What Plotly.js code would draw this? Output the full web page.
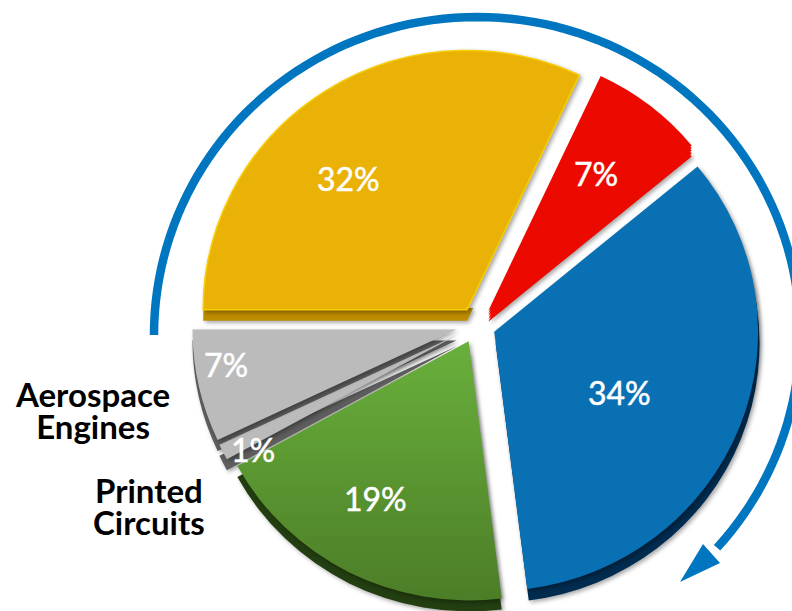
<!DOCTYPE html>
<html>
<head>
<meta charset="utf-8">
<script src="https://cdn.plot.ly/plotly-3.0.1.min.js"></script>
<style>
html,body{margin:0;padding:0;background:#fff;overflow:hidden;width:792px;height:611px}
#chart{width:792px;height:660px}
.pielayer{transform:scaleX(1.018);transform-origin:477px 0}
.pielayer .slice{filter:drop-shadow(2px 2px 2px rgba(0,0,0,.35))}
</style>
</head>
<body>
<div id="chart"></div>
<script>
// data
const categories = ['Segment A','Segment B','Segment C','Printed Circuits','Aerospace Engines','Segment F'];
const values = [32,7,34,19,1,7];
const faceColors = ['#EAB106','#EC0A00','#0870B3','#5C9A33','#BBBBBB','#BBBBBB'];
const sideColors = ['#BE8C00','#EC0A00','#012C50','#233E10','#5E5E5E','#5E5E5E'];
const redOnly = ['rgba(0,0,0,0)','#EC0A00','rgba(0,0,0,0)','rgba(0,0,0,0)','rgba(0,0,0,0)','rgba(0,0,0,0)'];
const pulls = [0.07,0.07,0.07,0.07,0.08,0.08];
const sidePulls = [0.07,0.07,0.076,0.07,0.08,0.08];
const percentX = [348,596,619,375,253,226];
const percentY = [178,173,392,498,450,365];
const sideLabels = ['Aerospace<br>Engines','Printed<br>Circuits'];
const sideLabelX = [92,149];
const sideLabelY = [415,511];

// layout geometry (pixels)
const W=792,H=660,CX=477,CY=325,HALF=280;
const px=x=>x/W, py=y=>1-y/H;
const dom=(dx,dy)=>({x:[px(CX+dx-HALF),px(CX+dx+HALF)],y:[py(CY+dy+HALF),py(CY+dy-HALF)]});
const pie=(colors,p,d,line)=>({type:'pie',values,labels:categories,sort:false,direction:'clockwise',rotation:270,
  pull:p,textinfo:'none',hoverinfo:'skip',showlegend:false,domain:d,
  marker:{colors,line}});
const traces=[
  pie(sideColors,sidePulls,dom(0,11),{width:0}),
  pie(redOnly,pulls,dom(0,8),{width:0}),
  pie(redOnly,pulls,dom(0,5),{width:0}),
  pie(redOnly,pulls,dom(0,2.5),{width:0}),
  pie(faceColors,pulls,dom(0,0),{width:[1.5,0,0,0,0,0],color:'#F8CE05'})
];

// sweep arrow
const AC={x:477,y:335,rx:323,ry:318};
let d='';
for(let a=-90;a<=132;a+=2){
  const t=a*Math.PI/180;
  d+=(d?'L':'M')+px(AC.x+AC.rx*Math.sin(t))+','+py(AC.y-AC.ry*Math.cos(t));
}
const head='M'+px(703)+','+py(544)+'L'+px(680)+','+py(582)+'L'+px(720)+','+py(563)+'Z';

const annotations=[];
values.forEach((v,i)=>annotations.push({xref:'paper',yref:'paper',x:px(percentX[i]),y:py(percentY[i]),
  text:v+'%',showarrow:false,xanchor:'center',yanchor:'middle',
  font:{family:'Lato',size:32,color:'#fff'}}));
sideLabels.forEach((t,i)=>annotations.push({xref:'paper',yref:'paper',x:px(sideLabelX[i]),y:py(sideLabelY[i]),
  text:t,showarrow:false,xanchor:'center',yanchor:'middle',align:'center',
  font:{family:'Lato',size:33,color:'#000',weight:700}}));

const layout={width:W,height:H,margin:{l:0,r:0,t:0,b:0},paper_bgcolor:'#fff',showlegend:false,
  annotations,
  shapes:[
   {type:'path',xref:'paper',yref:'paper',path:d,line:{color:'#0076C0',width:8.5},fillcolor:'rgba(0,0,0,0)',layer:'above'},
   {type:'path',xref:'paper',yref:'paper',path:head,line:{width:0},fillcolor:'#0076C0',layer:'above'}
  ]};

Plotly.newPlot('chart',traces,layout,{displayModeBar:false,staticPlot:true}).then(gd=>{
  const svg=gd.querySelector('svg.main-svg');
  const ns='http://www.w3.org/2000/svg';
  const defs=svg.querySelector('defs');
  const grad=(id,stops)=>{
    const g=document.createElementNS(ns,'linearGradient');
    g.setAttribute('id',id);g.setAttribute('x1','0');g.setAttribute('y1','0');g.setAttribute('x2','0');g.setAttribute('y2','1');
    stops.forEach(s=>{const e=document.createElementNS(ns,'stop');e.setAttribute('offset',s[0]);e.setAttribute('stop-color',s[1]);e.setAttribute('stop-opacity',s[2]);g.appendChild(e);});
    defs.appendChild(g);
  };
  const layers=gd.querySelectorAll('.pielayer .trace');
  const faces=layers[layers.length-1].querySelectorAll('.slice');
  // green face: vertical fade
  grad('greenFace',[[0,'#69B03C',1],[1,'#4C7D27',1]]);
  faces[3].querySelector('path.surface').style.fill='url(#greenFace)';
  // red shows no dark seam against its side
  for(let k=1;k<layers.length;k++) layers[k].querySelectorAll('.slice')[1].style.filter='none';
  // yellow side: only the flat lower edge shows
  const ySide=layers[0].querySelectorAll('.slice path.surface')[0];
  const bb=ySide.getBBox(), off=(bb.height-13)/bb.height;
  grad('yellowSide',[[off,'#BE8C00',0],[off,'#BE8C00',1]]);
  ySide.style.fill='url(#yellowSide)';
  gd.querySelectorAll('.annotation-text').forEach((t,i)=>{
    // slightly heavier percent labels
    if(i<values.length){t.style.stroke='#fff';t.style.strokeWidth='0.5px';}
    // tighter leading on the two-line side labels
    else t.querySelectorAll('tspan.line').forEach((s,j)=>{if(j>0)s.setAttribute('dy','32px');});
  });
});
</script>
</body>
</html>
